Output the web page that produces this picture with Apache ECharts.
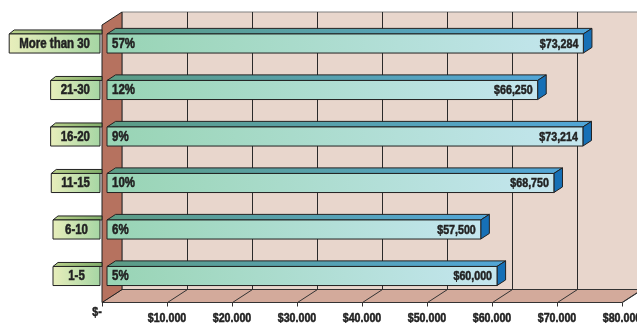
<!DOCTYPE html>
<html>
<head>
<meta charset="utf-8">
<script src="https://cdn.jsdelivr.net/npm/echarts@6/dist/echarts.min.js"></script>
<style>
  html, body { margin: 0; padding: 0; background: #fff; }
  #chart { width: 637px; height: 323px; }
</style>
</head>
<body>
<div id="chart"></div>
<script>
const categories = ['More than 30', '21-30', '16-20', '11-15', '6-10', '1-5'];
const shares = ['57%', '12%', '9%', '10%', '6%', '5%'];
const salaries = [73284, 66250, 73214, 68750, 57500, 60000];
const salaryLabels = ['$73,284', '$66,250', '$73,214', '$68,750', '$57,500', '$60,000'];
const ticks = [0, 10000, 20000, 30000, 40000, 50000, 60000, 70000, 80000];

// no condensed face installed, so squeeze a bold sans horizontally
const FONT = '"Liberation Sans", Arial, sans-serif';
const SQUEEZE = 0.82;
// oblique depth of the box: front plane -> back wall
const DX = 20, DY = -13;
const BAR_FRONT = 0.25, BAR_BACK = 0.68;

const chart = echarts.init(document.getElementById('chart'), null, { renderer: 'canvas' });

const measure = document.createElement('canvas').getContext('2d');
measure.font = 'bold 14px ' + FONT;

function label(text, x, y, size, align) {
  return {
    type: 'text', x: x, y: y, scaleX: SQUEEZE,
    style: {
      text: text, x: 0, y: 0, align: align, verticalAlign: 'middle',
      font: 'bold ' + size + 'px ' + FONT, fill: '#222',
      stroke: '#222', lineWidth: 0.5
    }
  };
}

function barRect(api, idx, value) {
  const p0 = api.coord([0, idx]);
  const p1 = api.coord([value, idx]);
  const h = api.size([0, 1])[1] * 0.41;
  const L = p0[0] + BAR_FRONT * DX;
  const R = p1[0] + BAR_FRONT * DX;
  const T = p0[1] + BAR_FRONT * DY - h / 2;
  return { L, R, T, B: T + h, h };
}

const ddx = (BAR_BACK - BAR_FRONT) * DX;
const ddy = (BAR_BACK - BAR_FRONT) * DY;

const option = {
  backgroundColor: '#fff',
  animation: false,
  grid: { left: 102, right: 15, top: 23.5, bottom: 20.5 },
  xAxis: {
    type: 'value',
    min: 0,
    max: 80000,
    interval: 10000,
    axisLine: { show: false },
    axisTick: { show: true, length: 4, lineStyle: { color: '#333' } },
    axisLabel: { show: false },
    splitLine: { show: false }
  },
  yAxis: {
    type: 'category',
    data: categories,
    inverse: true,
    axisLine: { show: false },
    axisTick: { show: false },
    axisLabel: { show: false }
  },
  series: [
    {
      // walls and floor
      type: 'custom',
      silent: true,
      data: [0],
      z: 1,
      renderItem: function (params, api) {
        const cs = params.coordSys;
        const x0 = cs.x, x1 = cs.x + cs.width;
        const y0 = cs.y + 1.5, y1 = cs.y + cs.height;
        return {
          type: 'group',
          children: [
            { type: 'polygon', shape: { points: [[x0 + DX, y0 + DY], [x1 + DX + 20, y0 + DY], [x1 + DX + 20, y1 + DY], [x0 + DX, y1 + DY]] },
              style: { fill: '#e8d6cc', stroke: '#808080', lineWidth: 1 } },
            { type: 'polygon', shape: { points: [[x0, y1], [x1, y1], [x1 + DX, y1 + DY], [x0 + DX, y1 + DY]] },
              style: { fill: '#d3aa9b', stroke: '#333', lineWidth: 1 } },
            { type: 'polygon', shape: { points: [[x0, y0], [x0 + DX, y0 + DY], [x0 + DX, y1 + DY], [x0, y1]] },
              style: { fill: '#b6725f', stroke: '#222', lineWidth: 1 } }
          ]
        };
      }
    },
    {
      // grid lines on floor and back wall
      type: 'custom',
      silent: true,
      data: ticks.slice(1),
      z: 2,
      renderItem: function (params, api) {
        const cs = params.coordSys;
        const y0 = cs.y + 1.5, y1 = cs.y + cs.height;
        const x = Math.round(api.coord([api.value(0), 0])[0]) + 0.5;
        return {
          type: 'group',
          children: [
            { type: 'line', shape: { x1: x, y1: y1, x2: x + DX, y2: y1 + DY }, style: { stroke: '#333', lineWidth: 1 } },
            { type: 'line', shape: { x1: x + DX, y1: y1 + DY, x2: x + DX, y2: y0 + DY }, style: { stroke: '#2a2a2a', lineWidth: 1 } }
          ]
        };
      }
    },
    {
      // x-axis labels
      type: 'custom',
      silent: true,
      data: ticks,
      z: 3,
      renderItem: function (params, api) {
        const cs = params.coordSys;
        const v = api.value(0);
        const x = api.coord([v, 0])[0];
        const y = cs.y + cs.height;
        if (v === 0) return label('$-', x - 5, y + 10, 13, 'center');
        return label('$' + (v / 1000) + '.000', x, y + 15.5, 13, 'center');
      }
    },
    {
      // 3D bars with labels
      type: 'custom',
      data: salaries.map((v, i) => [v, i]),
      z: 4,
      renderItem: function (params, api) {
        const v = api.value(0), idx = api.value(1);
        const r = barRect(api, idx, v);
        const w = r.R - r.L;
        const mid = r.T + r.h / 2 + 0.5;
        return {
          type: 'group',
          children: [
            { type: 'polygon', shape: { points: [[r.L, r.T], [r.R, r.T], [r.R + ddx, r.T + ddy], [r.L + ddx, r.T + ddy]] },
              style: { fill: new echarts.graphic.LinearGradient(0, 0, 1, 0, [{ offset: 0, color: '#5c9c84' }, { offset: 1, color: '#52a6d8' }]), stroke: '#222', lineWidth: 1 } },
            { type: 'polygon', shape: { points: [[r.R, r.T], [r.R + ddx, r.T + ddy], [r.R + ddx, r.B + ddy], [r.R, r.B]] },
              style: { fill: '#1670b6', stroke: '#222', lineWidth: 1 } },
            { type: 'rect', shape: { x: r.L, y: r.T, width: w, height: r.h },
              style: { fill: new echarts.graphic.LinearGradient(0, 0, 1, 0, [{ offset: 0, color: '#98d4b4' }, { offset: 1, color: '#c4e6ef' }]), stroke: '#222', lineWidth: 1 } },
            label(shares[idx], r.L + 5, mid, 14, 'left'),
            label(salaryLabels[idx], r.R - 5, mid, 13, 'right')
          ]
        };
      }
    },
    {
      // category label boxes
      type: 'custom',
      silent: true,
      data: categories.map((c, i) => [0, i]),
      z: 5,
      renderItem: function (params, api) {
        const idx = api.value(1);
        const r = barRect(api, idx, 0);
        const right = params.coordSys.x - 2;
        const tw = measure.measureText(categories[idx]).width * SQUEEZE;
        const bw = Math.max(47, tw + 20);
        const left = right - bw;
        return {
          type: 'group',
          children: [
            { type: 'polygon', shape: { points: [[left, r.T], [right + 2, r.T], [right + 2, r.T - 4], [left + 5, r.T - 4]] },
              style: { fill: new echarts.graphic.LinearGradient(0, 0, 1, 0, [{ offset: 0, color: '#b9d08a' }, { offset: 1, color: '#80ad6a' }]), stroke: '#222', lineWidth: 1 } },
            { type: 'rect', shape: { x: left, y: r.T, width: bw, height: r.h },
              style: { fill: new echarts.graphic.LinearGradient(0, 0, 1, 0, [{ offset: 0, color: '#e8eebb' }, { offset: 1, color: '#a6d6a4' }]), stroke: '#222', lineWidth: 1 } },
            label(categories[idx], left + bw / 2, r.T + r.h / 2 + 0.5, 14, 'center')
          ]
        };
      }
    }
  ]
};

chart.setOption(option);
</script>
</body>
</html>
